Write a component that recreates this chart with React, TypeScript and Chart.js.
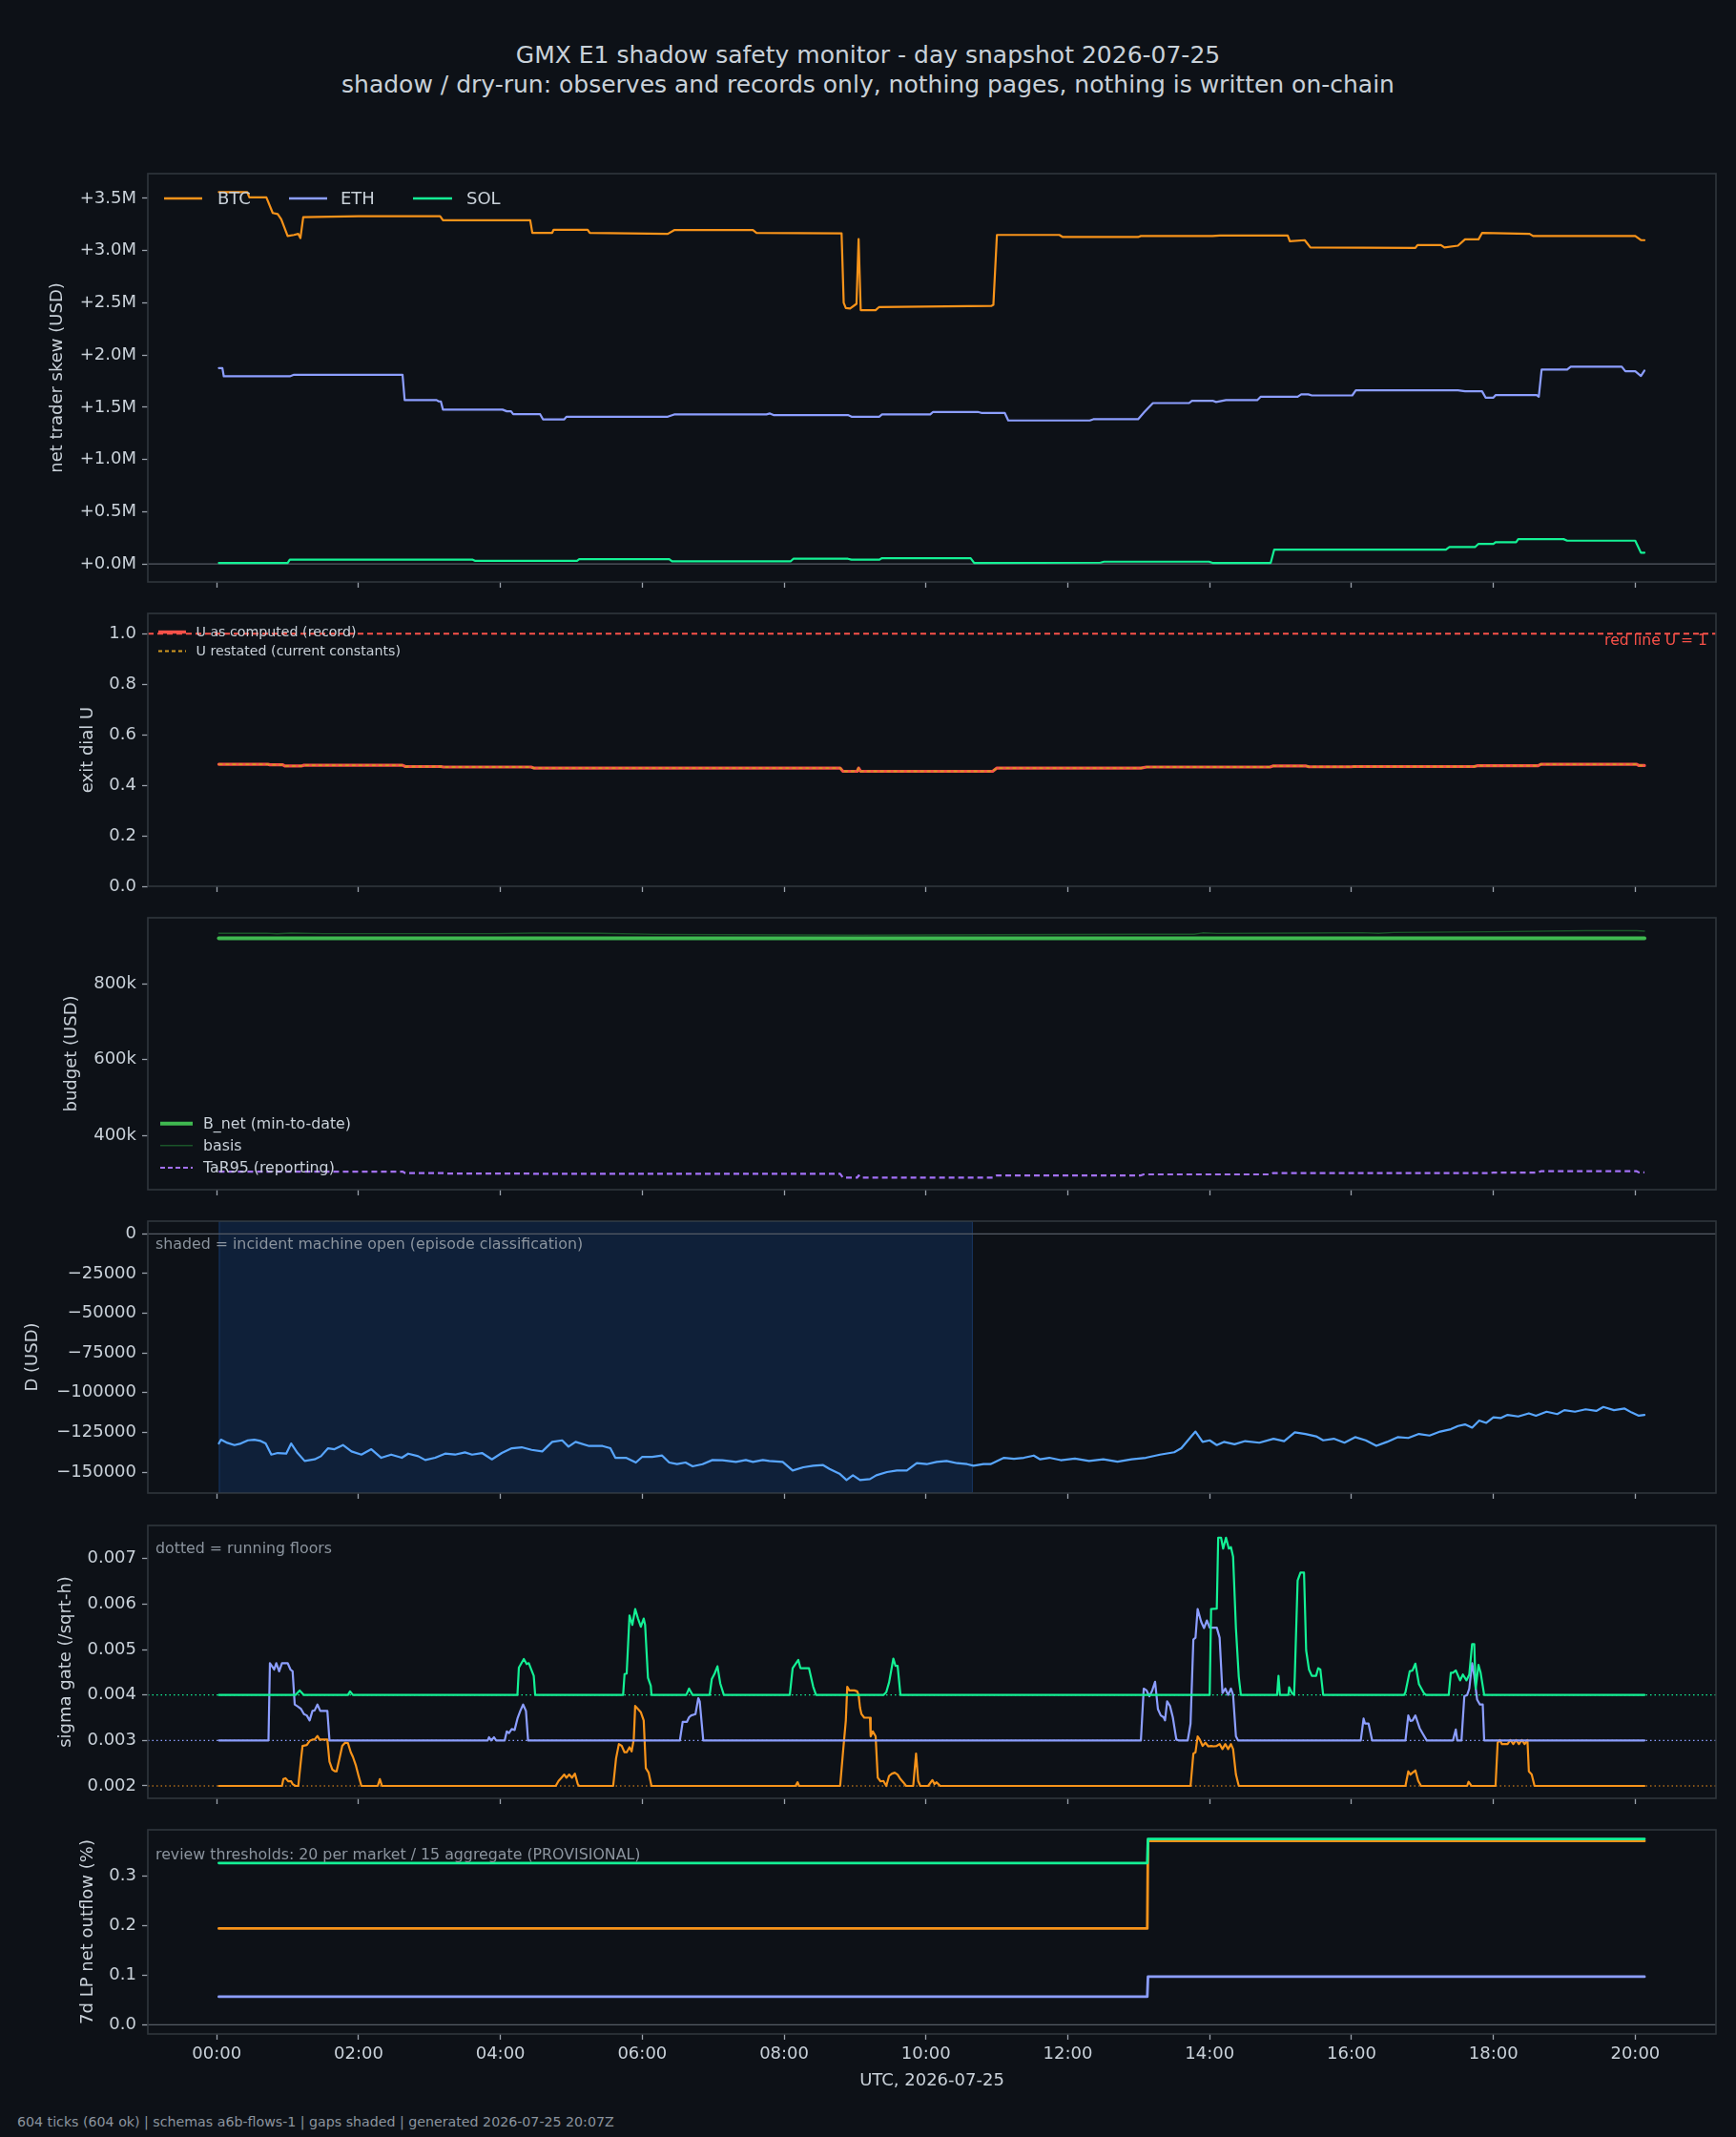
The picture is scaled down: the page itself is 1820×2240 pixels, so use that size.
import React, { useEffect, useRef } from "react";
import { Chart, registerables } from "chart.js";

Chart.register(...registerables);

type Pt = [number, number];

/* ===================== DATA ===================== */
// time axis: hours since 00:00 UTC, 2026-07-25
const TIME_TICKS = [0, 2, 4, 6, 8, 10, 12, 14, 16, 18, 20];
const TIME_TICK_LABELS = ["00:00", "02:00", "04:00", "06:00", "08:00", "10:00", "12:00", "14:00", "16:00", "18:00", "20:00"];

// panel 1 - net trader skew ($M)
const SKEW_TICKS = [0, 0.5, 1, 1.5, 2, 2.5, 3, 3.5];
const SKEW_TICK_LABELS = ["+0.0M", "+0.5M", "+1.0M", "+1.5M", "+2.0M", "+2.5M", "+3.0M", "+3.5M"];
const SKEW_BTC: Pt[] = [
  [0.03, 3.56], [0.43, 3.56], [0.46, 3.51], [0.7, 3.51], [0.79, 3.36], [0.86, 3.35], [0.91, 3.3], [1.0, 3.14],
  [1.09, 3.15], [1.15, 3.16], [1.18, 3.12], [1.22, 3.32], [2.0, 3.33], [3.15, 3.33], [3.19, 3.29], [4.42, 3.29],
  [4.45, 3.17], [4.73, 3.17], [4.75, 3.2], [5.23, 3.2], [5.26, 3.17], [6.36, 3.16], [6.45, 3.196], [7.56, 3.196],
  [7.61, 3.17], [8.81, 3.165], [8.84, 2.5], [8.87, 2.45], [8.93, 2.445], [9.02, 2.49], [9.05, 3.11], [9.08, 2.43],
  [9.29, 2.43], [9.34, 2.46], [10.92, 2.47], [10.95, 2.48], [11.0, 3.15], [11.88, 3.15], [11.93, 3.13], [12.99, 3.13],
  [13.03, 3.14], [14.04, 3.14], [14.14, 3.145], [15.1, 3.145], [15.13, 3.09], [15.34, 3.1], [15.42, 3.03], [16.9, 3.025],
  [16.93, 3.053], [17.26, 3.053], [17.31, 3.03], [17.5, 3.047], [17.6, 3.108], [17.79, 3.108], [17.84, 3.169],
  [18.51, 3.16], [18.56, 3.14], [20.0, 3.14], [20.08, 3.1], [20.13, 3.1],
];
const SKEW_ETH: Pt[] = [
  [0.03, 1.875], [0.08, 1.875], [0.1, 1.796], [1.03, 1.796], [1.09, 1.811], [2.62, 1.811], [2.65, 1.568], [3.1, 1.568],
  [3.13, 1.556], [3.16, 1.556], [3.19, 1.477], [4.03, 1.477], [4.09, 1.461], [4.15, 1.461], [4.18, 1.433], [4.56, 1.433],
  [4.6, 1.384], [4.9, 1.384], [4.93, 1.409], [6.36, 1.409], [6.45, 1.431], [7.75, 1.431], [7.8, 1.44], [7.85, 1.425],
  [8.9, 1.425], [8.95, 1.409], [9.34, 1.409], [9.38, 1.431], [10.06, 1.431], [10.1, 1.455], [10.73, 1.455], [10.78, 1.446],
  [11.11, 1.446], [11.16, 1.373], [12.31, 1.373], [12.36, 1.385], [12.99, 1.385], [13.08, 1.455], [13.2, 1.54],
  [13.71, 1.54], [13.75, 1.562], [14.04, 1.562], [14.09, 1.55], [14.23, 1.568], [14.67, 1.568], [14.72, 1.601],
  [15.24, 1.601], [15.29, 1.623], [15.39, 1.623], [15.44, 1.613], [16.01, 1.613], [16.06, 1.662], [17.5, 1.662],
  [17.6, 1.653], [17.84, 1.653], [17.89, 1.592], [18.0, 1.592], [18.03, 1.616], [18.61, 1.616], [18.64, 1.6],
  [18.68, 1.86], [19.04, 1.86], [19.09, 1.888], [19.81, 1.888], [19.86, 1.845], [20.0, 1.845], [20.08, 1.799], [20.13, 1.851],
];
const SKEW_SOL: Pt[] = [
  [0.03, 0.009], [1.0, 0.009], [1.03, 0.04], [3.61, 0.04], [3.64, 0.03], [5.08, 0.03], [5.11, 0.045], [6.38, 0.045],
  [6.42, 0.024], [8.09, 0.024], [8.13, 0.049], [8.9, 0.049], [8.95, 0.04], [9.34, 0.04], [9.38, 0.055], [10.63, 0.055],
  [10.68, 0.009], [12.46, 0.012], [12.51, 0.021], [13.99, 0.021], [14.04, 0.009], [14.86, 0.009], [14.91, 0.137],
  [17.33, 0.137], [17.38, 0.161], [17.74, 0.161], [17.79, 0.192], [18.0, 0.192], [18.03, 0.207], [18.32, 0.207],
  [18.35, 0.237], [18.99, 0.237], [19.04, 0.222], [20.0, 0.222], [20.08, 0.107], [20.13, 0.107],
];

// panel 2 - exit dial U
const U_TICKS = [0, 0.2, 0.4, 0.6, 0.8, 1.0];
const U_TICK_LABELS = ["0.0", "0.2", "0.4", "0.6", "0.8", "1.0"];
const U_RED_LINE = 1.0;
const U_COMPUTED: Pt[] = [
  [0.03, 0.483], [0.72, 0.483], [0.75, 0.481], [0.93, 0.481], [0.96, 0.476], [1.19, 0.476], [1.23, 0.479], [2.62, 0.479],
  [2.66, 0.474], [3.16, 0.474], [3.2, 0.472], [4.43, 0.472], [4.47, 0.468], [8.79, 0.468], [8.83, 0.455], [9.03, 0.455],
  [9.05, 0.468], [9.08, 0.455], [10.94, 0.455], [11.0, 0.468], [13.03, 0.468], [13.11, 0.472], [14.85, 0.472],
  [14.89, 0.476], [15.36, 0.476], [15.4, 0.473], [15.99, 0.473], [16.03, 0.474], [17.73, 0.474], [17.77, 0.477],
  [18.63, 0.477], [18.67, 0.483], [20.02, 0.483], [20.05, 0.478], [20.13, 0.478],
];
const U_RESTATED: Pt[] = U_COMPUTED; // restated values coincide with the record

// panel 3 - budget (USD)
const BUDGET_TICKS = [400000, 600000, 800000];
const BUDGET_TICK_LABELS = ["400k", "600k", "800k"];
const B_NET: Pt[] = [[0.03, 920000], [20.13, 920000]];
const BASIS: Pt[] = [
  [0.03, 933500], [0.7, 933800], [0.85, 932000], [1.05, 934000], [1.5, 932500], [3.9, 932500], [4.5, 934000],
  [5.4, 933500], [6.2, 930500], [9.05, 928500], [11.0, 929500], [12.99, 931000], [13.78, 931000], [13.9, 934500],
  [14.1, 933000], [15.36, 934000], [16.15, 935000], [16.38, 933500], [16.6, 935500], [17.96, 937500], [19.3, 940500],
  [20.02, 940500], [20.13, 939000],
];
const TAR95: Pt[] = [
  [0.03, 305000], [2.62, 305000], [2.66, 301000], [3.2, 301000], [3.24, 300000], [4.43, 300000], [4.47, 299000],
  [8.79, 299000], [8.83, 289000], [9.03, 289000], [9.05, 295000], [9.08, 289000], [10.94, 289000], [11.0, 295000],
  [13.03, 295000], [13.07, 297600], [14.85, 297600], [14.89, 301000], [17.96, 301000], [18.0, 302600], [18.63, 302600],
  [18.67, 306000], [20.02, 306000], [20.05, 303000], [20.13, 303000],
];

// panel 4 - D (USD)
const D_TICKS = [-150000, -125000, -100000, -75000, -50000, -25000, 0];
const D_TICK_LABELS = ["\u2212150000", "\u2212125000", "\u2212100000", "\u221275000", "\u221250000", "\u221225000", "0"];
const INCIDENT_OPEN: [number, number] = [0.03, 10.66];
const D_USD: Pt[] = [
  [0.03, -132000], [0.06, -129600], [0.15, -131600], [0.25, -133000], [0.34, -132000], [0.44, -130000], [0.53, -129600],
  [0.62, -130400], [0.69, -132000], [0.77, -139000], [0.86, -138000], [0.98, -138400], [1.05, -132000], [1.14, -138000],
  [1.24, -143000], [1.38, -142000], [1.47, -140000], [1.57, -135000], [1.66, -135600], [1.78, -133000], [1.9, -137000],
  [2.04, -139000], [2.18, -135600], [2.32, -141000], [2.46, -139000], [2.61, -141000], [2.7, -138400], [2.84, -140000],
  [2.94, -142400], [3.08, -141000], [3.22, -138400], [3.36, -139000], [3.5, -137600], [3.6, -139000], [3.74, -138000],
  [3.88, -142000], [4.02, -138000], [4.16, -135000], [4.3, -134400], [4.44, -136000], [4.59, -137000], [4.73, -131000],
  [4.87, -130000], [4.96, -134000], [5.06, -131000], [5.25, -133600], [5.44, -133600], [5.55, -135000], [5.62, -141000],
  [5.77, -141000], [5.91, -144000], [6.0, -140400], [6.14, -140400], [6.28, -139600], [6.38, -144000], [6.49, -145000],
  [6.61, -144000], [6.71, -146400], [6.85, -145000], [6.99, -142400], [7.13, -142600], [7.32, -143600], [7.46, -142400],
  [7.56, -143600], [7.7, -142400], [7.79, -143000], [7.98, -143600], [8.12, -149000], [8.27, -147000], [8.41, -146000],
  [8.55, -145600], [8.64, -148000], [8.78, -151000], [8.88, -155000], [8.97, -152000], [9.07, -155000], [9.21, -154400],
  [9.3, -152000], [9.45, -150000], [9.59, -149000], [9.73, -149000], [9.87, -144400], [10.01, -145000], [10.15, -143600],
  [10.29, -143000], [10.44, -144400], [10.58, -145000], [10.67, -146000], [10.81, -145000], [10.91, -145000],
  [11.1, -141000], [11.24, -141600], [11.38, -141000], [11.52, -139600], [11.61, -142000], [11.74, -141000],
  [11.9, -142500], [12.1, -141500], [12.3, -143000], [12.5, -142000], [12.7, -143500], [12.9, -142000], [13.1, -141000],
  [13.3, -139000], [13.5, -137500], [13.6, -135000], [13.75, -127000], [13.8, -124500], [13.9, -131000], [14.0, -130000],
  [14.1, -133000], [14.2, -131000], [14.35, -132500], [14.5, -130500], [14.7, -131500], [14.9, -129000], [15.05, -130500],
  [15.2, -125000], [15.35, -126000], [15.5, -127500], [15.6, -130000], [15.75, -129000], [15.9, -131500], [16.05, -128000],
  [16.2, -130000], [16.35, -133500], [16.5, -131000], [16.65, -128000], [16.8, -128500], [16.95, -126000], [17.1, -127000],
  [17.25, -124500], [17.4, -123000], [17.5, -121000], [17.6, -120000], [17.7, -122000], [17.8, -117500], [17.9, -119000],
  [18.0, -115500], [18.1, -116000], [18.2, -114000], [18.35, -115000], [18.5, -113000], [18.6, -114500], [18.75, -112000],
  [18.9, -113500], [19.0, -111000], [19.15, -112000], [19.3, -110500], [19.45, -111500], [19.55, -109000], [19.7, -111000],
  [19.85, -110000], [19.95, -112500], [20.05, -114500], [20.13, -114000],
];

// panel 5 - sigma gate (/sqrt-h)
const SIGMA_TICKS = [0.002, 0.003, 0.004, 0.005, 0.006, 0.007];
const SIGMA_TICK_LABELS = ["0.002", "0.003", "0.004", "0.005", "0.006", "0.007"];
const FLOOR_BTC = 0.002;
const FLOOR_ETH = 0.003;
const FLOOR_SOL = 0.004;
const SIGMA_SOL: Pt[] = [
  [0.03, 0.004], [1.11, 0.004], [1.17, 0.0041], [1.23, 0.004], [1.85, 0.004], [1.88, 0.00408], [1.92, 0.004],
  [4.24, 0.004], [4.26, 0.0046], [4.33, 0.00479], [4.37, 0.00468], [4.4, 0.0047], [4.47, 0.00442], [4.49, 0.004],
  [5.73, 0.004], [5.75, 0.00446], [5.78, 0.00447], [5.82, 0.00575], [5.86, 0.00554], [5.9, 0.00589], [5.94, 0.00568],
  [5.98, 0.0055], [6.02, 0.00568], [6.04, 0.00554], [6.08, 0.00438], [6.12, 0.0042], [6.13, 0.004], [6.62, 0.004],
  [6.66, 0.00414], [6.71, 0.004], [6.95, 0.004], [6.98, 0.00435], [7.02, 0.00447], [7.06, 0.00463], [7.1, 0.00425],
  [7.15, 0.004], [8.08, 0.004], [8.12, 0.00459], [8.2, 0.00477], [8.23, 0.00459], [8.35, 0.00459], [8.41, 0.00418],
  [8.45, 0.004], [9.4, 0.004], [9.44, 0.00406], [9.48, 0.00428], [9.54, 0.0048], [9.57, 0.00464], [9.6, 0.00464],
  [9.64, 0.004], [14.0, 0.004], [14.02, 0.00589], [14.1, 0.0059], [14.12, 0.00746], [14.16, 0.00746], [14.19, 0.00722],
  [14.23, 0.00746], [14.27, 0.00722], [14.3, 0.00725], [14.33, 0.00704], [14.37, 0.00547], [14.41, 0.0044],
  [14.44, 0.004], [14.95, 0.004], [14.97, 0.00442], [14.99, 0.004], [15.11, 0.004], [15.12, 0.00417], [15.16, 0.00404],
  [15.19, 0.004], [15.2, 0.00442], [15.24, 0.00652], [15.28, 0.00669], [15.33, 0.00669], [15.36, 0.00498],
  [15.4, 0.00456], [15.44, 0.00442], [15.5, 0.00442], [15.53, 0.00459], [15.56, 0.00456], [15.6, 0.004], [16.74, 0.004],
  [16.76, 0.00406], [16.82, 0.00452], [16.86, 0.00454], [16.9, 0.00469], [16.95, 0.00424], [17.02, 0.00404],
  [17.05, 0.004], [17.37, 0.004], [17.4, 0.00449], [17.43, 0.00449], [17.47, 0.00454], [17.53, 0.00432], [17.57, 0.00445],
  [17.62, 0.00432], [17.66, 0.00445], [17.7, 0.00512], [17.73, 0.00512], [17.75, 0.00414], [17.79, 0.00466],
  [17.82, 0.00449], [17.87, 0.004], [20.13, 0.004],
];
const SIGMA_ETH: Pt[] = [
  [0.03, 0.003], [0.73, 0.003], [0.75, 0.0047], [0.81, 0.00456], [0.84, 0.0047], [0.88, 0.00452], [0.92, 0.0047],
  [1.0, 0.0047], [1.04, 0.00456], [1.07, 0.00452], [1.1, 0.00379], [1.15, 0.00374], [1.19, 0.00369], [1.23, 0.00358],
  [1.27, 0.00355], [1.31, 0.00344], [1.35, 0.00365], [1.38, 0.00366], [1.42, 0.00379], [1.46, 0.00365], [1.56, 0.00365],
  [1.59, 0.003], [3.82, 0.003], [3.84, 0.00307], [3.87, 0.003], [3.91, 0.00307], [3.94, 0.003], [4.06, 0.003],
  [4.09, 0.0032], [4.12, 0.00316], [4.16, 0.00325], [4.2, 0.00323], [4.24, 0.00348], [4.28, 0.00365], [4.32, 0.00379],
  [4.36, 0.00365], [4.39, 0.003], [6.53, 0.003], [6.57, 0.00341], [6.63, 0.00341], [6.66, 0.00351], [6.69, 0.00355],
  [6.75, 0.00358], [6.79, 0.00393], [6.81, 0.00386], [6.86, 0.003], [13.03, 0.003], [13.07, 0.00414], [13.11, 0.0041],
  [13.15, 0.00397], [13.19, 0.0041], [13.23, 0.00429], [13.27, 0.00369], [13.31, 0.00355], [13.35, 0.00351],
  [13.37, 0.00344], [13.4, 0.00386], [13.44, 0.00376], [13.48, 0.00351], [13.53, 0.00302], [13.56, 0.003],
  [13.69, 0.003], [13.73, 0.00337], [13.77, 0.00522], [13.8, 0.00526], [13.83, 0.00589], [13.88, 0.00561],
  [13.92, 0.00547], [13.96, 0.00564], [14.0, 0.00548], [14.1, 0.00548], [14.14, 0.00526], [14.18, 0.00404],
  [14.22, 0.00414], [14.26, 0.004], [14.3, 0.00414], [14.33, 0.004], [14.37, 0.00309], [14.4, 0.003], [16.13, 0.003],
  [16.17, 0.00348], [16.19, 0.00337], [16.24, 0.00337], [16.29, 0.003], [16.76, 0.003], [16.8, 0.00355], [16.83, 0.00343],
  [16.86, 0.00344], [16.9, 0.00355], [16.96, 0.00327], [17.0, 0.00316], [17.06, 0.003], [17.43, 0.003], [17.47, 0.00324],
  [17.49, 0.003], [17.55, 0.003], [17.59, 0.00397], [17.63, 0.004], [17.66, 0.00414], [17.7, 0.0047], [17.73, 0.00442],
  [17.77, 0.0039], [17.81, 0.00379], [17.85, 0.00379], [17.87, 0.003], [20.13, 0.003],
];
const SIGMA_BTC: Pt[] = [
  [0.03, 0.002], [0.92, 0.002], [0.94, 0.00215], [0.97, 0.00217], [1.01, 0.0021], [1.05, 0.0021], [1.07, 0.00204],
  [1.11, 0.002], [1.15, 0.002], [1.19, 0.0026], [1.21, 0.00288], [1.27, 0.0029], [1.31, 0.00299], [1.35, 0.00302],
  [1.38, 0.00302], [1.42, 0.0031], [1.45, 0.00302], [1.56, 0.00302], [1.59, 0.00253], [1.63, 0.00236], [1.67, 0.00232],
  [1.69, 0.00232], [1.73, 0.0026], [1.77, 0.00288], [1.81, 0.00295], [1.85, 0.00294], [1.89, 0.00274], [1.92, 0.00264],
  [1.96, 0.00246], [2.0, 0.00222], [2.04, 0.002], [2.27, 0.002], [2.3, 0.00215], [2.33, 0.002], [4.78, 0.002],
  [4.82, 0.00211], [4.86, 0.00218], [4.9, 0.00225], [4.93, 0.00218], [4.97, 0.00225], [5.01, 0.00218], [5.05, 0.00227],
  [5.09, 0.00204], [5.11, 0.002], [5.59, 0.002], [5.63, 0.0026], [5.67, 0.00292], [5.71, 0.00288], [5.75, 0.00274],
  [5.78, 0.00274], [5.82, 0.00285], [5.85, 0.00276], [5.88, 0.00302], [5.9, 0.00376], [5.94, 0.00369], [5.98, 0.00362],
  [6.02, 0.00344], [6.05, 0.00239], [6.09, 0.00229], [6.13, 0.002], [8.16, 0.002], [8.19, 0.00208], [8.21, 0.002],
  [8.79, 0.002], [8.83, 0.00274], [8.87, 0.00344], [8.89, 0.00418], [8.92, 0.0041], [8.99, 0.0041], [9.03, 0.00408],
  [9.05, 0.004], [9.07, 0.00372], [9.09, 0.00358], [9.13, 0.0035], [9.21, 0.0035], [9.22, 0.00309], [9.25, 0.0032],
  [9.29, 0.00309], [9.32, 0.00218], [9.36, 0.0021], [9.4, 0.00211], [9.44, 0.002], [9.48, 0.00222], [9.52, 0.00227],
  [9.56, 0.00229], [9.6, 0.00225], [9.64, 0.00215], [9.68, 0.00208], [9.72, 0.002], [9.82, 0.002], [9.86, 0.00271],
  [9.89, 0.00211], [9.92, 0.002], [10.03, 0.002], [10.09, 0.00213], [10.12, 0.00204], [10.15, 0.00208], [10.2, 0.002],
  [13.73, 0.002], [13.77, 0.00271], [13.8, 0.00274], [13.83, 0.00309], [13.86, 0.00302], [13.9, 0.00288],
  [13.94, 0.00295], [13.98, 0.00287], [14.02, 0.00288], [14.06, 0.00287], [14.1, 0.00288], [14.14, 0.00292],
  [14.18, 0.00281], [14.22, 0.00292], [14.26, 0.00281], [14.3, 0.00292], [14.33, 0.00281], [14.37, 0.00225],
  [14.41, 0.002], [16.76, 0.002], [16.8, 0.00232], [16.83, 0.00225], [16.86, 0.00229], [16.9, 0.00234], [16.94, 0.00211],
  [16.98, 0.002], [17.63, 0.002], [17.65, 0.00209], [17.69, 0.002], [18.03, 0.002], [18.06, 0.00295], [18.09, 0.00301],
  [18.12, 0.00292], [18.2, 0.00292], [18.24, 0.00301], [18.28, 0.00292], [18.32, 0.00301], [18.36, 0.00292],
  [18.4, 0.00301], [18.44, 0.00292], [18.48, 0.00301], [18.5, 0.00232], [18.54, 0.00225], [18.58, 0.002], [20.13, 0.002],
];

// panel 6 - 7d LP net outflow (%)
const LP_TICKS = [0, 0.1, 0.2, 0.3];
const LP_TICK_LABELS = ["0.0", "0.1", "0.2", "0.3"];
const LP_SOL: Pt[] = [[0.03, 0.326], [13.12, 0.326], [13.13, 0.3744], [20.13, 0.3744]];
const LP_BTC: Pt[] = [[0.03, 0.194], [13.12, 0.194], [13.13, 0.3705], [20.13, 0.3705]];
const LP_ETH: Pt[] = [[0.03, 0.0564], [13.12, 0.0564], [13.13, 0.0968], [20.13, 0.0968]];

/* ===================== STYLE / LAYOUT ===================== */
const FONT = "'DejaVu Sans', 'Noto Sans', sans-serif";
const BG = "#0d1117";
const TXT = "#c9d1d9";
const MUTED = "#8b949e";
const SPINE = "#30363d";
const TICKC = "#9aa2ab";
const ZERO = "#545b64";
const C_BTC = "#f7931a";
const C_ETH = "#8c9eff";
const C_SOL = "#14f195";
const C_RED = "#f85149";
const C_GOLD = "#d29922";
const C_BNET = "#3fb950";
const C_BASIS = "rgba(35,134,54,0.6)";
const C_TAR = "#a371f7";
const C_D = "#58a6ff";

const W = 1820;
const PLOT_L = 155;
const PLOT_R = 1799;
const PAD_T = 12;
const X_MIN = -0.971;
const X_MAX = 21.138;

type Series = { data: Pt[]; color: string; width: number; dash?: number[] };
type HLine = { value: number; color: string; width: number; dash?: number[] };
type Txt = { text: string; anchor: "left" | "right"; dx: number; dy: number; color: string; size: number };
type LegItem = { label: string; color: string; width: number; dash?: number[]; h0: number; h1: number; tx: number; dy: number };
type PanelCfg = {
  id: string; top: number; bottom: number; xH: number; showX: boolean;
  yMin: number; yMax: number; yTicks: number[]; yLabels: string[];
  yTitle: string; yTitleX: number;
  series: Series[];
  under?: HLine[]; over?: HLine[];
  shade?: { from: number; to: number; fill: string; edge: string };
  texts?: Txt[];
  legend?: { size: number; items: LegItem[] };
};

const PANELS: PanelCfg[] = [
  {
    id: "skew", top: 182, bottom: 610, xH: 8, showX: false,
    yMin: -0.173, yMax: 3.737, yTicks: SKEW_TICKS, yLabels: SKEW_TICK_LABELS,
    yTitle: "net trader skew (USD)", yTitleX: 60,
    series: [
      { data: SKEW_SOL, color: C_SOL, width: 2.2 },
      { data: SKEW_ETH, color: C_ETH, width: 2.2 },
      { data: SKEW_BTC, color: C_BTC, width: 2.2 },
    ],
    under: [{ value: 0, color: ZERO, width: 1.3 }],
    legend: {
      size: 18,
      items: [
        { label: "BTC", color: C_BTC, width: 2.6, h0: 17, h1: 57, tx: 73, dy: 26 },
        { label: "ETH", color: C_ETH, width: 2.6, h0: 148, h1: 188, tx: 202, dy: 26 },
        { label: "SOL", color: C_SOL, width: 2.6, h0: 278, h1: 319, tx: 334, dy: 26 },
      ],
    },
  },
  {
    id: "u", top: 643, bottom: 929, xH: 8, showX: false,
    yMin: 0, yMax: 1.08, yTicks: U_TICKS, yLabels: U_TICK_LABELS,
    yTitle: "exit dial U", yTitleX: 92,
    series: [
      { data: U_RESTATED, color: C_GOLD, width: 1.8, dash: [4, 3] },
      { data: U_COMPUTED, color: C_RED, width: 3.2 },
    ],
    over: [{ value: U_RED_LINE, color: C_RED, width: 2, dash: [6, 4] }],
    texts: [{ text: "red line U = 1", anchor: "right", dx: -9, dy: 32.7, color: C_RED, size: 15.6 }],
    legend: {
      size: 14.2,
      items: [
        { label: "U as computed (record)", color: C_RED, width: 3.4, h0: 11, h1: 40, tx: 50.5, dy: 19.5 },
        { label: "U restated (current constants)", color: C_GOLD, width: 1.8, dash: [4, 3], h0: 11, h1: 40, tx: 50.5, dy: 39.5 },
      ],
    },
  },
  {
    id: "budget", top: 962, bottom: 1247, xH: 8, showX: false,
    yMin: 257400, yMax: 974300, yTicks: BUDGET_TICKS, yLabels: BUDGET_TICK_LABELS,
    yTitle: "budget (USD)", yTitleX: 75,
    series: [
      { data: B_NET, color: C_BNET, width: 4 },
      { data: BASIS, color: C_BASIS, width: 1.4 },
      { data: TAR95, color: C_TAR, width: 2.2, dash: [6, 4] },
    ],
    legend: {
      size: 15.8,
      items: [
        { label: "B_net (min-to-date)", color: C_BNET, width: 4, h0: 13, h1: 47, tx: 58, dy: 215.7 },
        { label: "basis", color: C_BASIS, width: 1.6, h0: 13, h1: 47, tx: 58, dy: 238.7 },
        { label: "TaR95 (reporting)", color: C_TAR, width: 2.2, dash: [5, 3], h0: 13, h1: 47, tx: 58, dy: 262 },
      ],
    },
  },
  {
    id: "d", top: 1280, bottom: 1565, xH: 8, showX: false,
    yMin: -163200, yMax: 8000, yTicks: D_TICKS, yLabels: D_TICK_LABELS,
    yTitle: "D (USD)", yTitleX: 34,
    series: [{ data: D_USD, color: C_D, width: 2.2 }],
    shade: { from: INCIDENT_OPEN[0], to: INCIDENT_OPEN[1], fill: "rgba(31,111,235,0.16)", edge: "rgba(56,139,253,0.22)" },
    under: [{ value: 0, color: ZERO, width: 1.3 }],
    texts: [{ text: "shaded = incident machine open (episode classification)", anchor: "left", dx: 8, dy: 29, color: MUTED, size: 15.8 }],
  },
  {
    id: "sigma", top: 1599, bottom: 1885, xH: 8, showX: false,
    yMin: 0.001727, yMax: 0.007728, yTicks: SIGMA_TICKS, yLabels: SIGMA_TICK_LABELS,
    yTitle: "sigma gate (/sqrt-h)", yTitleX: 69,
    series: [
      { data: SIGMA_SOL, color: C_SOL, width: 2.2 },
      { data: SIGMA_ETH, color: C_ETH, width: 2.2 },
      { data: SIGMA_BTC, color: C_BTC, width: 2.2 },
    ],
    under: [
      { value: FLOOR_BTC, color: C_BTC, width: 1.2, dash: [1.5, 3] },
      { value: FLOOR_ETH, color: C_ETH, width: 1.2, dash: [1.5, 3] },
      { value: FLOOR_SOL, color: C_SOL, width: 1.2, dash: [1.5, 3] },
    ],
    texts: [{ text: "dotted = running floors", anchor: "left", dx: 8, dy: 29, color: MUTED, size: 15.8 }],
  },
  {
    id: "lp", top: 1918, bottom: 2132, xH: 60, showX: true,
    yMin: -0.0187, yMax: 0.3929, yTicks: LP_TICKS, yLabels: LP_TICK_LABELS,
    yTitle: "7d LP net outflow (%)", yTitleX: 92,
    series: [
      { data: LP_SOL, color: C_SOL, width: 2.8 },
      { data: LP_ETH, color: C_ETH, width: 2.8 },
      { data: LP_BTC, color: C_BTC, width: 2.8 },
    ],
    under: [{ value: 0, color: ZERO, width: 1.3 }],
    texts: [{ text: "review thresholds: 20 per market / 15 aggregate (PROVISIONAL)", anchor: "left", dx: 8, dy: 31, color: MUTED, size: 15.8 }],
  },
];

/* ===================== DRAWING HELPERS ===================== */
function hline(ctx: CanvasRenderingContext2D, a: any, ys: any, h: HLine) {
  const py = ys.getPixelForValue(h.value);
  ctx.save();
  ctx.strokeStyle = h.color;
  ctx.lineWidth = h.width;
  ctx.setLineDash(h.dash || []);
  ctx.beginPath();
  ctx.moveTo(a.left, py);
  ctx.lineTo(a.right, py);
  ctx.stroke();
  ctx.restore();
}

function makeDeco(cfg: PanelCfg) {
  return {
    id: "deco_" + cfg.id,
    beforeDatasetsDraw(chart: any) {
      const { ctx, chartArea: a } = chart;
      const xs = chart.scales.x;
      const ys = chart.scales.y;
      ctx.save();
      ctx.beginPath();
      ctx.rect(a.left, a.top, a.right - a.left, a.bottom - a.top);
      ctx.clip();
      if (cfg.shade) {
        const x0 = xs.getPixelForValue(cfg.shade.from);
        const x1 = xs.getPixelForValue(cfg.shade.to);
        ctx.fillStyle = cfg.shade.fill;
        ctx.fillRect(x0, a.top, x1 - x0, a.bottom - a.top);
        ctx.strokeStyle = cfg.shade.edge;
        ctx.lineWidth = 1;
        ctx.strokeRect(x0 + 0.5, a.top + 0.5, x1 - x0 - 1, a.bottom - a.top - 1);
      }
      for (const h of cfg.under || []) hline(ctx, a, ys, h);
      ctx.restore();
    },
    afterDatasetsDraw(chart: any) {
      const { ctx, chartArea: a } = chart;
      const ys = chart.scales.y;
      for (const h of cfg.over || []) hline(ctx, a, ys, h);
      ctx.save();
      for (const t of cfg.texts || []) {
        ctx.font = `${t.size}px ${FONT}`;
        ctx.fillStyle = t.color;
        ctx.textBaseline = "alphabetic";
        ctx.textAlign = t.anchor;
        const x = t.anchor === "left" ? a.left + t.dx : a.right + t.dx;
        ctx.fillText(t.text, x, a.top + t.dy);
      }
      if (cfg.legend) {
        ctx.font = `${cfg.legend.size}px ${FONT}`;
        ctx.textAlign = "left";
        ctx.textBaseline = "middle";
        for (const it of cfg.legend.items) {
          const y = a.top + it.dy;
          ctx.strokeStyle = it.color;
          ctx.lineWidth = it.width;
          ctx.lineCap = "butt";
          ctx.setLineDash(it.dash || []);
          ctx.beginPath();
          ctx.moveTo(a.left + it.h0, y);
          ctx.lineTo(a.left + it.h1, y);
          ctx.stroke();
          ctx.setLineDash([]);
          ctx.fillStyle = TXT;
          ctx.fillText(it.label, a.left + it.tx, y + 1);
        }
      }
      ctx.restore();
    },
    afterDraw(chart: any) {
      const { ctx, chartArea: a } = chart;
      ctx.save();
      ctx.strokeStyle = SPINE;
      ctx.lineWidth = 1.6;
      ctx.strokeRect(a.left, a.top, a.right - a.left, a.bottom - a.top);
      ctx.translate(cfg.yTitleX, (a.top + a.bottom) / 2);
      ctx.rotate(-Math.PI / 2);
      ctx.font = `18px ${FONT}`;
      ctx.fillStyle = TXT;
      ctx.textAlign = "center";
      ctx.textBaseline = "middle";
      ctx.fillText(cfg.yTitle, 0, 0);
      ctx.restore();
    },
  };
}

function Panel({ cfg }: { cfg: PanelCfg }) {
  const ref = useRef<HTMLCanvasElement | null>(null);
  const h = cfg.bottom - cfg.top + PAD_T + cfg.xH;
  useEffect(() => {
    const canvas = ref.current;
    if (!canvas) return;
    const chart = new Chart(canvas, {
      type: "line",
      data: {
        datasets: cfg.series.map((s) => ({
          data: s.data.map(([x, y]) => ({ x, y })),
          borderColor: s.color,
          borderWidth: s.width,
          borderDash: s.dash || [],
          borderJoinStyle: "round",
          borderCapStyle: s.dash ? "butt" : "round",
          pointRadius: 0,
          pointHoverRadius: 0,
          tension: 0,
          fill: false,
        })),
      },
      options: {
        responsive: false,
        maintainAspectRatio: false,
        animation: false,
        devicePixelRatio: 1,
        events: [],
        layout: { padding: { left: 0, right: W - PLOT_R, top: PAD_T, bottom: 0 } },
        plugins: { legend: { display: false }, tooltip: { enabled: false }, title: { display: false } },
        scales: {
          x: {
            type: "linear",
            position: "bottom",
            min: X_MIN,
            max: X_MAX,
            bounds: "data",
            afterBuildTicks: (s: any) => {
              s.ticks = TIME_TICKS.map((v) => ({ value: v }));
            },
            afterFit: (s: any) => {
              s.height = cfg.xH;
              s.paddingLeft = 0;
              s.paddingRight = 0;
            },
            ticks: {
              display: cfg.showX,
              autoSkip: false,
              maxRotation: 0,
              minRotation: 0,
              padding: 5,
              color: TXT,
              font: { family: FONT, size: 18 },
              callback: (_v: any, i: number) => TIME_TICK_LABELS[i],
            },
            grid: { display: true, drawOnChartArea: false, drawTicks: true, tickLength: 6, tickColor: TICKC, tickWidth: 1.3 },
            border: { display: false },
          },
          y: {
            type: "linear",
            position: "left",
            min: cfg.yMin,
            max: cfg.yMax,
            bounds: "data",
            afterBuildTicks: (s: any) => {
              s.ticks = cfg.yTicks.map((v) => ({ value: v }));
            },
            afterFit: (s: any) => {
              s.width = PLOT_L;
              s.paddingTop = 0;
              s.paddingBottom = 0;
            },
            ticks: {
              autoSkip: false,
              padding: 6,
              color: TXT,
              font: { family: FONT, size: 18 },
              callback: (_v: any, i: number) => cfg.yLabels[i],
            },
            grid: { display: true, drawOnChartArea: false, drawTicks: true, tickLength: 6, tickColor: TICKC, tickWidth: 1.3 },
            border: { display: false },
          },
        },
      } as any,
      plugins: [makeDeco(cfg)],
    } as any);
    return () => chart.destroy();
  }, []);
  return (
    <canvas
      ref={ref}
      width={W}
      height={h}
      style={{ position: "absolute", left: 0, top: cfg.top - PAD_T, width: W, height: h, display: "block" }}
    />
  );
}

export default function App() {
  return (
    <div
      style={{
        position: "absolute", left: 0, top: 0, width: W, height: 2240, background: BG,
        fontFamily: FONT, overflow: "hidden", color: TXT,
      }}
    >
      <div style={{ position: "absolute", left: 0, top: 43, width: W, textAlign: "center", fontSize: 25, lineHeight: "30px", whiteSpace: "nowrap" }}>
        GMX E1 shadow safety monitor - day snapshot 2026-07-25
      </div>
      <div style={{ position: "absolute", left: 0, top: 74, width: W, textAlign: "center", fontSize: 25, lineHeight: "30px", whiteSpace: "nowrap" }}>
        shadow / dry-run: observes and records only, nothing pages, nothing is written on-chain
      </div>
      {PANELS.map((p) => (
        <Panel key={p.id} cfg={p} />
      ))}
      <div style={{ position: "absolute", left: 677, top: 2169, width: 600, textAlign: "center", fontSize: 18, lineHeight: "22px", whiteSpace: "nowrap" }}>
        UTC, 2026-07-25
      </div>
      <div style={{ position: "absolute", left: 18, top: 2215, fontSize: 14.2, lineHeight: "18px", color: MUTED, whiteSpace: "nowrap" }}>
        604 ticks (604 ok) | schemas a6b-flows-1 | gaps shaded | generated 2026-07-25 20:07Z
      </div>
    </div>
  );
}
